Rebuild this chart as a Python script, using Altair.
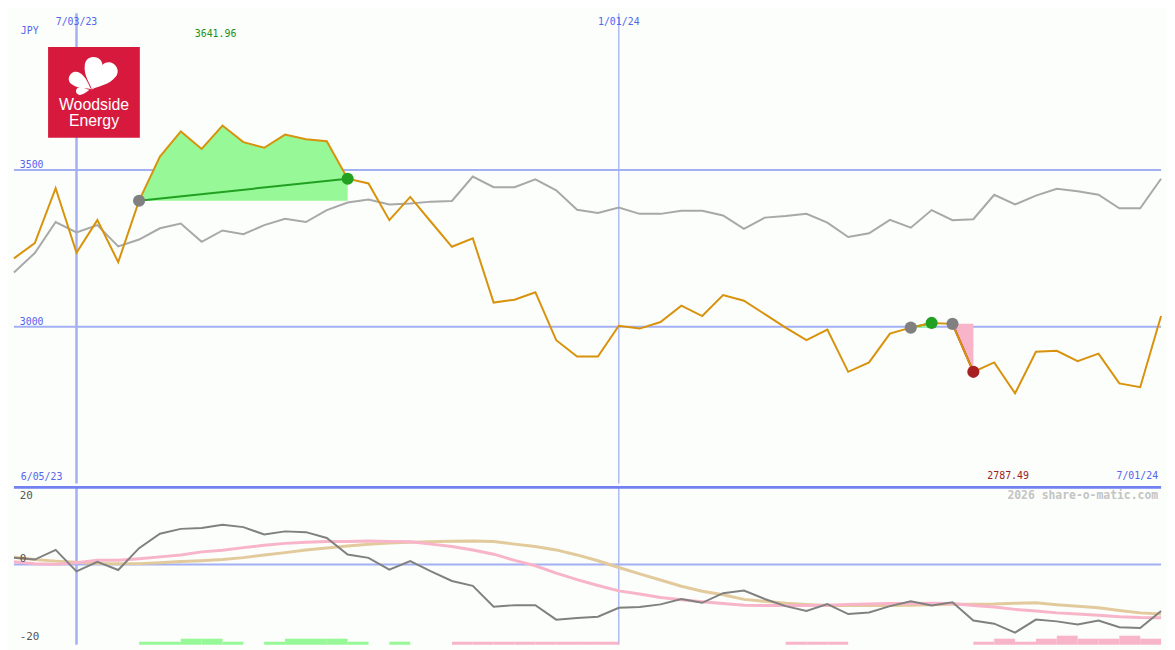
import math
import altair as alt
import pandas as pd

# ---------------- layout ----------------
W, H1, H2 = 1159, 475, 159
SX = W / 1175
SY = (H1 + H2) / 650


def px(x):
    return round(x * SX, 1)


def py(y):
    return round(y * SY, 1)


def pyl(y):
    return round((y - 487) * SY, 1)


MONO = "DejaVu Sans Mono"
SANS = "Liberation Sans"
BG = "#fbfefb"
GRID = "#a3b0f3"
SEP = "#7282f0"
LBL_BLUE = "#5565ee"
ORANGE = "#d8920c"
PEER = "#a8a8a8"
FILL_WIN = "#96f896"
FILL_LOSS = "#f8b4c8"
LINE_WIN = "#22a022"
LINE_LOSS = "#a82020"
MARK_OPEN = "#808080"
MACD_C = "#808080"
FAST_C = "#f8b4c8"
SLOW_C = "#e2ca9c"
LOGO_RED = "#d6193d"

# ---------------- data ----------------
dates = [d.strftime("%Y-%m-%d") for d in pd.date_range("2023-06-12", "2024-07-01", freq="7D")]

price = [3218, 3267, 3442, 3236, 3340, 3206, 3402, 3543, 3623, 3567,
         3641.96, 3589, 3571, 3613, 3598, 3592, 3472, 3457, 3340, 3414,
         3334, 3255, 3282, 3077, 3086, 3110, 2957, 2905, 2905, 3003,
         2994, 3015, 3067, 3034, 3101, 3083, 3040, 2997, 2957, 2991,
         2856, 2886, 2978, 2997, 3012, 3009, 2856, 2886, 2787.49, 2920,
         2923, 2890, 2914, 2819, 2807, 3034]

peer = [3173, 3235, 3334, 3301, 3324, 3256, 3278, 3314, 3329, 3271,
        3307, 3295, 3324, 3344, 3334, 3372, 3396, 3406, 3390, 3393,
        3399, 3401, 3479, 3445, 3445, 3470, 3435, 3373, 3363, 3380,
        3360, 3360, 3370, 3370, 3355, 3312, 3348, 3353, 3360, 3332,
        3286, 3298, 3341, 3316, 3372, 3340, 3343, 3421, 3390, 3418,
        3440, 3432, 3421, 3378, 3378, 3472]

macd = [1.75, 1.3, 3.8, -1.75, 0.7, -1.4, 4.25, 8, 9.25, 9.5,
        10.3, 9.7, 7.8, 8.6, 8.4, 6.9, 2.6, 1.75, -1.3, 0.9,
        -1.75, -4.25, -5.5, -10.9, -10.5, -10.5, -14.25, -13.8, -13.5, -11.2,
        -11, -10.3, -8.9, -9.9, -7.4, -6.7, -8.9, -10.75, -12, -10.2,
        -12.8, -12.4, -10.75, -9.5, -10.6, -9.75, -14.5, -15.3, -17.6, -14.25,
        -14.7, -15.5, -14.5, -16.2, -16.4, -12]

sig_fast = [0.75, 0.2, 0.1, 0.5, 1.1, 1.1, 1.5, 2.0, 2.5, 3.3,
            3.7, 4.4, 5.0, 5.5, 5.8, 6.0, 6.0, 6.1, 6.0, 5.9,
            5.3, 4.7, 3.8, 2.7, 1.1, -0.3, -2.2, -3.9, -5.4, -6.8,
            -7.6, -8.5, -9.1, -9.6, -10.1, -10.5, -10.6, -10.6, -10.6, -10.5,
            -10.3, -10.2, -10.1, -10.1, -10.0, -10.1, -10.6, -11.0, -11.6, -12.0,
            -12.5, -12.8, -13.1, -13.5, -13.7, -13.75]

sig_slow = [1.9, 1.3, 0.9, 0.6, 0.3, 0.2, 0.25, 0.5, 0.8, 1.0,
            1.3, 1.8, 2.5, 3.1, 3.8, 4.3, 4.8, 5.25, 5.6, 5.8,
            5.95, 6.05, 6.1, 6.0, 5.3, 4.7, 3.8, 2.5, 1.0, -0.75,
            -2.4, -4.0, -5.6, -6.9, -7.8, -9.0, -9.5, -10.0, -10.3, -10.6,
            -10.6, -10.6, -10.6, -10.5, -10.4, -10.3, -10.25, -10.2, -10.0, -9.9,
            -10.4, -10.8, -11.2, -11.9, -12.5, -12.8]

hist = [0, 0, 0, 0, 0, 0, 1, 1, 2, 2,
        1, 0, 1, 2, 2, 2, 1, 0, 1, 0,
        0, -1, -1, -1, -1, -1, -1, -1, -1, 0,
        0, 0, 0, 0, 0, 0, 0, -1, -1, -1,
        0, 0, 0, 0, 0, 0, -1, -2, -1, -2,
        -3, -2, -2, -3, -2, 0]

trades = [(6, 16), (43, 44), (45, 46)]

grid_levels = [3500, 3000]
grid_labels = ["3500", "3000"]
mark_dates = ["2023-07-03", "2024-01-01"]
mark_labels = ["7/03/23", "1/01/24"]
currency = "JPY"
range_start_label = "6/05/23"
range_end_label = "7/01/24"
credit = "2026 share-o-matic.com"
low_labels = ["20", "0", "-20"]
company = ["Woodside", "Energy"]

TOP_DOMAIN = [2500, 4000]
LO, HI = -20.75, 20
BAR_STEP = 0.78

# ---------------- frames ----------------
df = pd.DataFrame({"date": dates, "price": price, "peer": peer,
                   "macd": macd, "fast": sig_fast, "slow": sig_slow})

fill_rows, line_rows, mark_rows = [], [], []
for t, (s, e) in enumerate(trades):
    outcome = "win" if price[e] > price[s] else "loss"
    for i in range(s, e + 1):
        fill_rows.append({"trade": t, "date": dates[i], "price": price[i],
                          "base": price[s], "outcome": outcome})
    line_rows.append({"trade": t, "date": dates[s], "price": price[s], "outcome": outcome})
    line_rows.append({"trade": t, "date": dates[e], "price": price[e], "outcome": outcome})
    mark_rows.append({"date": dates[s], "price": price[s], "kind": "open", "order": 0})
    mark_rows.append({"date": dates[e], "price": price[e], "kind": outcome, "order": 1})
fill_df = pd.DataFrame(fill_rows)
line_df = pd.DataFrame(line_rows)
mark_df = pd.DataFrame(mark_rows).sort_values("order")

imax = price.index(max(price))
imin = price.index(min(price))
ext_df = pd.DataFrame({"date": [dates[imax], dates[imin]],
                       "label": [f"{max(price):.2f}", f"{min(price):.2f}"],
                       "kind": ["hi", "lo"]})

bar_rows = []
for i, h in enumerate(hist):
    if h != 0 and i + 1 < len(dates):
        bar_rows.append({"date": dates[i], "next": dates[i + 1],
                         "top": LO + abs(h) * BAR_STEP, "lo": LO,
                         "kind": "up" if h > 0 else "down"})
bar_df = pd.DataFrame(bar_rows)

vr_df = pd.DataFrame({"date": mark_dates, "label": mark_labels})
grid_df = pd.DataFrame({"level": grid_levels, "label": grid_labels})

# ---------------- scales ----------------
x_scale = alt.Scale(type="utc", domain=[alt.DateTime(year=2023, month=6, date=12, utc=True),
                                        alt.DateTime(year=2024, month=7, date=1, utc=True)])
y_top = alt.Scale(domain=TOP_DOMAIN, nice=False, zero=False)
y_low = alt.Scale(domain=[LO, HI], nice=False, zero=False)


def X(field="date"):
    return alt.X(f"{field}:T", scale=x_scale, axis=None)


def YT(field):
    return alt.Y(f"{field}:Q", scale=y_top, axis=None)


def YL(field):
    return alt.Y(f"{field}:Q", scale=y_low, axis=None)


def fixed_text(text, x, y, color, align="left", size=10, font=MONO, weight="normal"):
    return alt.Chart(pd.DataFrame({"t": [text]})).mark_text(
        align=align, baseline="middle", font=font, fontSize=size,
        color=color, fontWeight=weight
    ).encode(x=alt.value(x), y=alt.value(y), text="t:N")


# ---------------- top panel ----------------
hrules = alt.Chart(grid_df).mark_rule(color=GRID, strokeWidth=2).encode(y=YT("level"))

vrules_top = alt.Chart(vr_df).mark_rule(color=GRID).encode(
    x=X(),
    strokeWidth=alt.condition(alt.datum.label == mark_labels[0], alt.value(2.5), alt.value(1.3)),
)

fills = alt.Chart(fill_df).mark_area(opacity=1).encode(
    x=X(), y=YT("price"), y2="base:Q",
    color=alt.Color("outcome:N", scale=alt.Scale(domain=["win", "loss"], range=[FILL_WIN, FILL_LOSS]), legend=None),
    detail="trade:N",
)

peer_line = alt.Chart(df).mark_line(color=PEER, strokeWidth=2).encode(x=X(), y=YT("peer"))

trade_lines = alt.Chart(line_df).mark_line(strokeWidth=2).encode(
    x=X(), y=YT("price"),
    color=alt.Color("outcome:N", scale=alt.Scale(domain=["win", "loss"], range=[LINE_WIN, LINE_LOSS]), legend=None),
    detail="trade:N",
)

price_line = alt.Chart(df).mark_line(color=ORANGE, strokeWidth=2).encode(x=X(), y=YT("price"))

markers = alt.Chart(mark_df).mark_circle(size=150, opacity=1).encode(
    x=X(), y=YT("price"),
    color=alt.Color("kind:N", scale=alt.Scale(domain=["open", "win", "loss"],
                                               range=[MARK_OPEN, LINE_WIN, LINE_LOSS]), legend=None),
    order="order:Q",
)

date_lbls = alt.Chart(vr_df).mark_text(font=MONO, fontSize=10, color=LBL_BLUE, baseline="middle").encode(
    x=X(), y=alt.value(py(9)), text="label:N")

level_lbls = alt.Chart(grid_df).mark_text(font=MONO, fontSize=10, color=LBL_BLUE, align="left",
                                          baseline="middle", dy=-5).encode(
    x=alt.value(px(6)), y=YT("level"), text="label:N")

hi_lbl = alt.Chart(ext_df).transform_filter(alt.datum.kind == "hi").mark_text(
    font=MONO, fontSize=10, color="#209020", baseline="middle", dx=-7).encode(
    x=X(), y=alt.value(py(21)), text="label:N")
lo_lbl = alt.Chart(ext_df).transform_filter(alt.datum.kind == "lo").mark_text(
    font=MONO, fontSize=10, color="#a02020", baseline="middle", dx=-7).encode(
    x=X(), y=alt.value(py(479)), text="label:N")

cur_lbl = fixed_text(currency, px(7), py(18), LBL_BLUE)
start_lbl = fixed_text(range_start_label, px(7), py(480), LBL_BLUE)
end_lbl = fixed_text(range_end_label, px(1172), py(479), LBL_BLUE, align="right")

# logo (decoration)
logo_box = alt.Chart(pd.DataFrame({"a": [0]})).mark_rect(color=LOGO_RED).encode(
    x=alt.value(px(35)), x2=alt.value(px(129)), y=alt.value(py(35)), y2=alt.value(py(129)))
logo_t1 = fixed_text(company[0], px(82), py(95), "white", align="center", size=16, font=SANS)
logo_t2 = fixed_text(company[1], px(82), py(112), "white", align="center", size=16, font=SANS)

PETAL = "M0,1 C-0.08,0.7 -0.55,0.25 -0.5,-0.4 C-0.45,-1.0 0.45,-1.0 0.5,-0.4 C0.55,0.25 0.08,0.7 0,1 Z"
petal_specs = [(4, 36, 0.0), (42, 36, 1.0), (304, 28, 1.0), (262, 15, 2.5)]
base_x, base_y = 80, 79
petals = []
for ang, L, gap in petal_specs:
    a = math.radians(ang)
    cx = base_x + (L / 2 + gap) * math.sin(a)
    cy = base_y - (L / 2 + gap) * math.cos(a)
    petals.append(
        alt.Chart(pd.DataFrame({"a": [0]})).mark_point(
            shape=PETAL, filled=True, fill="white", strokeWidth=0, opacity=1,
            size=L * L, angle=ang
        ).encode(x=alt.value(px(cx)), y=alt.value(py(cy)))
    )

top = alt.layer(
    hrules, vrules_top, fills, peer_line, trade_lines, price_line, markers,
    date_lbls, level_lbls, hi_lbl, lo_lbl, cur_lbl, start_lbl, end_lbl,
    logo_box, logo_t1, logo_t2, *petals
).properties(width=W, height=H1).resolve_scale(color="independent")

# ---------------- lower panel ----------------
zero_rule = alt.Chart(pd.DataFrame({"v": [0]})).mark_rule(color=GRID, strokeWidth=2).encode(y=YL("v"))
sep_rule = alt.Chart(pd.DataFrame({"v": [HI]})).mark_rule(color=SEP, strokeWidth=3).encode(y=YL("v"))
vrules_low = alt.Chart(vr_df).mark_rule(color=GRID).encode(
    x=X(),
    strokeWidth=alt.condition(alt.datum.label == mark_labels[0], alt.value(2.5), alt.value(1.3)),
)
bars = alt.Chart(bar_df).mark_rect(opacity=1).encode(
    x=X(), x2="next:T", y=YL("top"), y2="lo:Q",
    color=alt.Color("kind:N", scale=alt.Scale(domain=["up", "down"], range=[FILL_WIN, FILL_LOSS]), legend=None),
)
fast_line = alt.Chart(df).mark_line(color=FAST_C, strokeWidth=3).encode(x=X(), y=YL("fast"))
slow_line = alt.Chart(df).mark_line(color=SLOW_C, strokeWidth=3).encode(x=X(), y=YL("slow"))
macd_line = alt.Chart(df).mark_line(color=MACD_C, strokeWidth=2).encode(x=X(), y=YL("macd"))

credit_lbl = fixed_text(credit, px(1172), pyl(496), "#c4c4c4", align="right", size=11.5, weight="bold")
l20 = fixed_text(low_labels[0], px(6), pyl(496), "#555555", size=11)
l0 = fixed_text(low_labels[1], px(6), pyl(561), "#555555", size=11)
lm20 = fixed_text(low_labels[2], px(6), pyl(642), "#555555", size=11)

bottom = alt.layer(
    zero_rule, vrules_low, bars, slow_line, fast_line, macd_line, sep_rule,
    credit_lbl, l20, l0, lm20
).properties(width=W, height=H2).resolve_scale(color="independent")

chart = alt.vconcat(top, bottom, spacing=0).resolve_scale(
    y="independent", color="independent"
).properties(padding=0, background=BG).configure_view(stroke=None)

chart.save("out.html", embed_options={"renderer": "svg", "actions": False})
